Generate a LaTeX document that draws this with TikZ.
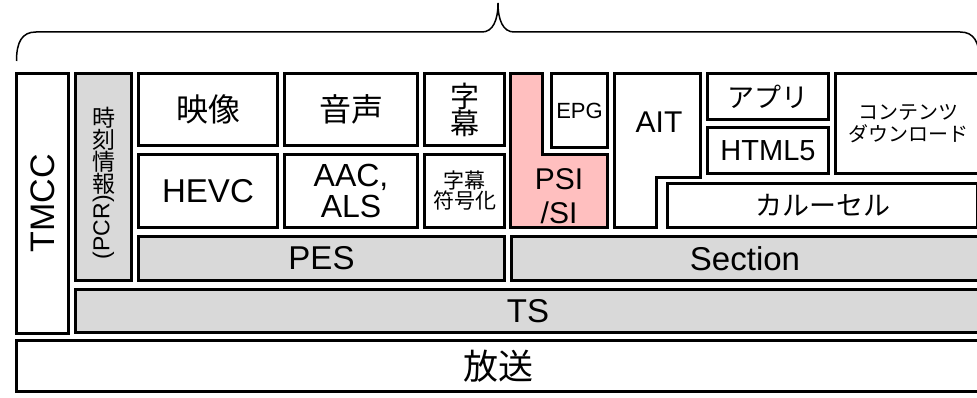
\documentclass[tikz,border=0pt]{standalone}
\usepackage{fontspec}
\usepackage{graphicx}
\setmainfont{Liberation Sans}
\newfontfamily\jp{Noto Sans CJK JP}
\definecolor{graybg}{HTML}{D9D9D9}
\definecolor{pinkbg}{HTML}{FFBFBF}
\newcommand\fsz[2]{\fontsize{#1}{#2}\selectfont}
% #1 style, #2 name, #3 x1, #4 y1, #5 x2, #6 y2 (outer edges, px), #7 text
\newcommand\lbox[7]{\node[#1, minimum width={#5-#3-3}, minimum height={#6-#4-3}] (#2) at ({(#3+#5)/2},{(#4+#6)/2}) {#7};}
\tikzset{
  lay/.style={draw, line width=3pt, fill=white, inner sep=0pt, align=center},
  grayl/.style={lay, fill=graybg},
  lshape/.style={draw, line width=3pt},
  brace/.style={draw, line width=1.5pt},
}
\begin{document}
\begin{tikzpicture}[x=1pt,y=-1pt]
\useasboundingbox (0,0) rectangle (977,398);
\clip (0,0) rectangle (977,398);
% brace
\draw[brace] (16.5,61) .. controls (16.5,42) and (22,32) .. (36,32) -- (482,32)
  .. controls (493,32) and (498,20) .. (498,3)
  .. controls (498,20) and (503,32) .. (514,32) -- (960,32)
  .. controls (974,32) and (979.5,42) .. (979.5,61);
% left columns
\node[lay, rotate=90, minimum width=260, minimum height=52, font=\fsz{34}{34}] (tmcc) at (42.5,203.5) {TMCC};
\lbox{grayl}{pcr}{74}{72}{133}{282}{}
\node[align=center, inner sep=0pt, font=\fsz{23}{22}] (pcrtext) at (103.5,183) {{\jp 時}\\{\jp 刻}\\{\jp 情}\\{\jp 報}\\\rotatebox{90}{(PCR)}};
% PES group
\lbox{lay,font=\jp\fsz{32}{32}}{eizo}{137}{72}{279}{147}{映像}
\lbox{lay,font=\jp\fsz{32}{32}}{onsei}{283}{72}{419}{147}{音声}
\lbox{lay,font=\jp\fsz{29}{27}}{jimaku}{423}{72}{506}{147}{字\\幕}
\lbox{lay,font=\fsz{33}{33}}{hevc}{137}{153}{279}{229}{HEVC}
\lbox{lay,font=\fsz{32}{31}}{aac}{283}{153}{419}{229}{AAC,\\ALS}
\lbox{lay,font=\jp\fsz{21}{20}}{fugo}{423}{153}{506}{229}{字幕\\符号化}
\lbox{grayl,font=\fsz{33}{33}}{pes}{137}{235}{506}{282}{PES}
% Section group
\draw[lshape, fill=pinkbg] (510.5,73.5) -- (542.5,73.5) -- (542.5,154.5) -- (607.5,154.5) -- (607.5,227.5) -- (510.5,227.5) -- cycle;
\node[align=center, inner sep=0pt, font=\fsz{30}{34}] (psi) at (559,196) {PSI\\/SI};
\lbox{lay,font=\fsz{22}{22}}{epg}{550}{72}{609}{149}{EPG}
\draw[lshape, fill=white] (614.5,73.5) -- (700.5,73.5) -- (700.5,177.5) -- (656.5,177.5) -- (656.5,227.5) -- (614.5,227.5) -- cycle;
\node[inner sep=0pt, font=\fsz{30}{30}] (ait) at (659,122) {AIT};
\lbox{lay,font=\jp\fsz{27}{27}}{appli}{706}{72}{830}{121}{アプリ}
\lbox{lay,font=\fsz{29}{29}}{html}{706}{126}{830}{175}{HTML5}
\lbox{lay,font=\jp\fsz{20}{22}}{content}{834}{72}{982}{175}{コンテンツ\\ダウンロード}
\lbox{lay,font=\jp\fsz{27}{27}}{carousel}{666}{182}{979}{229}{カルーセル}
\lbox{grayl,font=\fsz{33}{33}}{section}{510}{235}{980}{282}{Section}
% bottom layers
\lbox{grayl,font=\fsz{33}{33}}{ts}{74}{288}{982}{334}{TS}
\lbox{lay,font=\jp\fsz{35}{35}}{hoso}{15}{339}{982}{393}{放送}
\end{tikzpicture}
\end{document}
